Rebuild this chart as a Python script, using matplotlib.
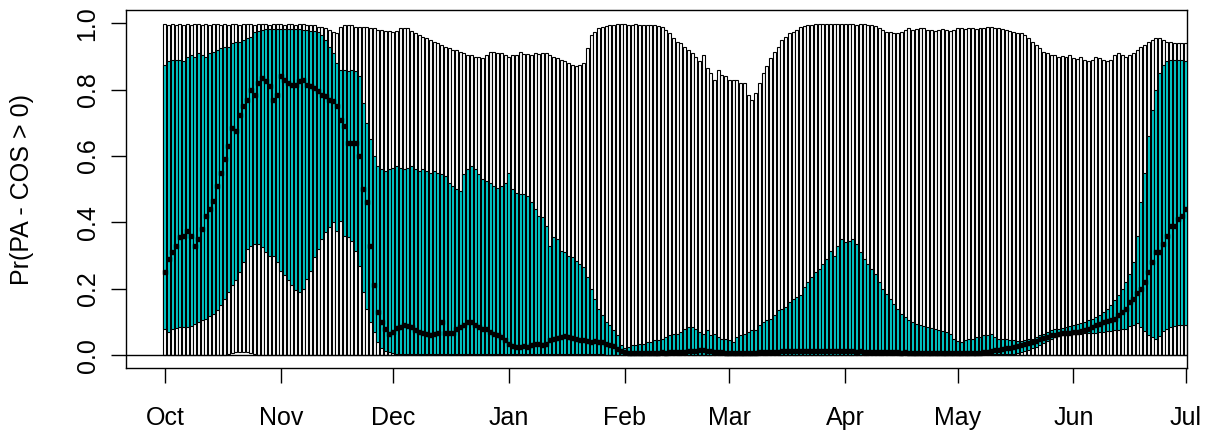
import matplotlib
matplotlib.use("Agg")
import matplotlib.pyplot as plt
import numpy as np
import pandas as pd

plt.rcParams['font.family'] = ['Liberation Sans', 'DejaVu Sans']

# one bar per day, 1 Oct to 1 Jul
dates = pd.date_range('2018-10-01', '2019-07-01', freq='D')
month_starts = pd.date_range('2018-10-01', '2019-07-01', freq='MS')
month_labels = ['Oct', 'Nov', 'Dec', 'Jan', 'Feb', 'Mar', 'Apr', 'May', 'Jun', 'Jul']

# upper end of the outer (white) bar
hi = [
    0.997, 0.995, 0.997, 0.996, 0.998, 0.995, 0.997, 0.996, 0.997, 0.998,
    0.996, 0.997, 0.995, 0.997, 0.998, 0.996, 0.997, 0.995, 0.997, 0.998,
    0.996, 0.997, 0.998, 0.997, 0.996, 0.998, 0.997, 0.998, 0.996, 0.997,
    0.998, 0.997, 0.996, 0.998, 0.997, 0.996, 0.998, 0.997, 0.995, 0.996,
    0.994,
    0.99, 0.99, 0.985, 0.98, 0.975, 0.97, 0.99, 0.995, 0.995, 0.995,
    0.99, 0.99, 0.99, 0.99, 0.985, 0.985, 0.98, 0.98, 0.978, 0.976,
    0.975, 0.978, 0.985, 0.987, 0.985, 0.976, 0.97, 0.965, 0.96, 0.955,
    0.95, 0.945, 0.94, 0.935, 0.93, 0.925, 0.92, 0.92, 0.915, 0.91,
    0.905, 0.905, 0.9, 0.9, 0.895, 0.905, 0.913, 0.913, 0.91, 0.91,
    0.905, 0.9, 0.905, 0.905, 0.913, 0.908, 0.908, 0.905, 0.91, 0.908,
    0.91, 0.91, 0.905, 0.9, 0.895, 0.89, 0.885, 0.88, 0.875, 0.87,
    0.875, 0.88, 0.925, 0.965, 0.975, 0.985, 0.99, 0.992, 0.995, 0.996,
    0.997, 0.998, 0.997, 0.996, 0.996, 0.997, 0.996, 0.995, 0.996, 0.995,
    0.994, 0.992, 0.99, 0.98, 0.97, 0.955, 0.945, 0.94, 0.93, 0.92,
    0.91, 0.9, 0.885, 0.905, 0.865, 0.85, 0.83, 0.86, 0.845, 0.84,
    0.83, 0.83, 0.83, 0.82, 0.82, 0.785, 0.77, 0.79, 0.82, 0.85,
    0.87, 0.895, 0.915, 0.93, 0.95, 0.96, 0.97, 0.975, 0.98, 0.99,
    0.993, 0.995, 0.996, 0.997, 0.997, 0.998, 0.997, 0.997, 0.998, 0.997,
    0.997, 0.998, 0.997, 0.997, 0.996, 0.997, 0.997, 0.996, 0.995, 0.993,
    0.985, 0.98, 0.975, 0.975, 0.972, 0.972, 0.975, 0.98, 0.985, 0.98,
    0.983, 0.985, 0.985, 0.98, 0.98, 0.978, 0.98, 0.982, 0.98, 0.978,
    0.98, 0.985, 0.987, 0.984, 0.986, 0.985, 0.983, 0.987, 0.985, 0.988,
    0.99, 0.986, 0.985, 0.984, 0.98, 0.978, 0.975, 0.972, 0.97, 0.965,
    0.955, 0.945, 0.935, 0.925, 0.915, 0.91, 0.905, 0.905, 0.9, 0.903,
    0.9, 0.905, 0.895, 0.893, 0.9, 0.89, 0.885, 0.89, 0.9, 0.895,
    0.89, 0.885, 0.89, 0.905, 0.91, 0.905, 0.9, 0.905, 0.91, 0.92,
    0.93, 0.935, 0.945, 0.95, 0.955, 0.955, 0.95, 0.945, 0.945, 0.94,
    0.94, 0.94, 0.94,
]

# upper end of the teal bar
q3 = [
    0.874, 0.885, 0.888, 0.89, 0.888, 0.885, 0.9, 0.905, 0.9, 0.91,
    0.905, 0.9, 0.91, 0.915, 0.92, 0.925, 0.93, 0.93, 0.94, 0.945,
    0.945, 0.95, 0.955, 0.96, 0.975, 0.978, 0.98, 0.982, 0.983, 0.983,
    0.984, 0.984, 0.983, 0.984, 0.983, 0.983, 0.982, 0.98, 0.98, 0.978,
    0.976, 0.975, 0.965, 0.95, 0.93, 0.91, 0.88, 0.86, 0.86, 0.855,
    0.86, 0.855, 0.84, 0.76, 0.7, 0.65, 0.6, 0.57, 0.56, 0.555,
    0.56, 0.565, 0.57, 0.565, 0.56, 0.565, 0.57, 0.56, 0.555, 0.56,
    0.555, 0.55, 0.555, 0.55, 0.545, 0.54, 0.52, 0.51, 0.5, 0.495,
    0.545, 0.56, 0.57, 0.56, 0.545, 0.53, 0.525, 0.52, 0.51, 0.505,
    0.51, 0.52, 0.55, 0.5, 0.49, 0.485, 0.485, 0.48, 0.46, 0.44,
    0.42, 0.415, 0.39, 0.33, 0.355, 0.35, 0.315, 0.31, 0.3, 0.295,
    0.285, 0.275, 0.265, 0.235, 0.2, 0.17, 0.14, 0.12, 0.1, 0.09,
    0.075, 0.06, 0.03, 0.02, 0.025, 0.03, 0.03, 0.035, 0.035, 0.04,
    0.04, 0.045, 0.045, 0.05, 0.055, 0.06, 0.065, 0.065, 0.07, 0.08,
    0.085, 0.085, 0.08, 0.07, 0.065, 0.075, 0.06, 0.065, 0.055, 0.05,
    0.05, 0.045, 0.04, 0.055, 0.06, 0.065, 0.07, 0.075, 0.075, 0.09,
    0.1, 0.105, 0.11, 0.12, 0.135, 0.14, 0.145, 0.16, 0.17, 0.175,
    0.18, 0.205, 0.22, 0.235, 0.25, 0.26, 0.275, 0.29, 0.315, 0.3,
    0.33, 0.35, 0.34, 0.345, 0.35, 0.335, 0.31, 0.29, 0.275, 0.26,
    0.245, 0.22, 0.2, 0.185, 0.17, 0.155, 0.14, 0.125, 0.115, 0.105,
    0.1, 0.095, 0.09, 0.088, 0.085, 0.082, 0.08, 0.075, 0.072, 0.07,
    0.065, 0.05, 0.042, 0.04, 0.045, 0.05, 0.05, 0.055, 0.055, 0.06,
    0.06, 0.065, 0.055, 0.05, 0.05, 0.048, 0.045, 0.045, 0.042, 0.042,
    0.045, 0.048, 0.05, 0.055, 0.06, 0.065, 0.07, 0.075, 0.078, 0.08,
    0.082, 0.085, 0.088, 0.09, 0.093, 0.096, 0.1, 0.105, 0.11, 0.115,
    0.12, 0.13, 0.14, 0.15, 0.165, 0.18, 0.2, 0.22, 0.245, 0.28,
    0.36, 0.46, 0.55, 0.66, 0.74, 0.8, 0.85, 0.875, 0.885, 0.89,
    0.89, 0.89, 0.89, 0.885,
]

# median (black points)
med = [
    0.25, 0.29, 0.31, 0.33, 0.355, 0.36, 0.375, 0.36, 0.33, 0.35,
    0.38, 0.42, 0.44, 0.465, 0.51, 0.55, 0.59, 0.63, 0.685, 0.675,
    0.725, 0.75, 0.77, 0.8, 0.785, 0.82, 0.835, 0.825, 0.81, 0.77,
    0.785, 0.84, 0.83, 0.82, 0.815, 0.815, 0.825, 0.83, 0.815, 0.81,
    0.805, 0.795, 0.785, 0.78, 0.77, 0.765, 0.75, 0.71, 0.69, 0.64,
    0.64, 0.64, 0.6, 0.5, 0.46, 0.33, 0.21, 0.13, 0.1, 0.08,
    0.064, 0.07, 0.083, 0.085, 0.09, 0.088, 0.085, 0.075, 0.07, 0.068,
    0.064, 0.062, 0.064, 0.066, 0.1, 0.068, 0.066, 0.068, 0.08, 0.085,
    0.09, 0.1, 0.1, 0.09, 0.085, 0.08, 0.078, 0.07, 0.065, 0.06,
    0.055, 0.045, 0.035, 0.028, 0.025, 0.025, 0.028, 0.025, 0.03, 0.035,
    0.033, 0.032, 0.035, 0.045, 0.05, 0.052, 0.055, 0.058, 0.055, 0.053,
    0.048, 0.045, 0.045, 0.042, 0.04, 0.042, 0.04, 0.04, 0.035, 0.03,
    0.028, 0.018, 0.012, 0.008, 0.006, 0.005, 0.005, 0.006, 0.005, 0.006,
    0.007, 0.006, 0.007, 0.008, 0.007, 0.008, 0.009, 0.008, 0.009, 0.01,
    0.011, 0.012, 0.013, 0.014, 0.015, 0.013, 0.012, 0.01, 0.009, 0.008,
    0.007, 0.007, 0.006, 0.006, 0.007, 0.006, 0.005, 0.006, 0.007, 0.008,
    0.008, 0.009, 0.009, 0.01, 0.01, 0.011, 0.011, 0.012, 0.012, 0.012,
    0.013, 0.012, 0.013, 0.012, 0.013, 0.012, 0.013, 0.012, 0.012, 0.011,
    0.012, 0.011, 0.011, 0.012, 0.011, 0.01, 0.011, 0.01, 0.01, 0.009,
    0.009, 0.01, 0.009, 0.009, 0.008, 0.008, 0.008, 0.007, 0.008, 0.007,
    0.007, 0.007, 0.006, 0.006, 0.006, 0.006, 0.006, 0.005, 0.006, 0.005,
    0.005, 0.005, 0.005, 0.006, 0.005, 0.006, 0.006, 0.007, 0.007, 0.008,
    0.01, 0.012, 0.014, 0.016, 0.018, 0.02, 0.022, 0.025, 0.028, 0.03,
    0.033, 0.036, 0.04, 0.044, 0.048, 0.052, 0.056, 0.06, 0.062, 0.064,
    0.066, 0.067, 0.068, 0.069, 0.07, 0.072, 0.075, 0.08, 0.085, 0.09,
    0.095, 0.1, 0.103, 0.107, 0.11, 0.12, 0.13, 0.14, 0.16, 0.17,
    0.186, 0.2, 0.22, 0.25, 0.28, 0.31, 0.31, 0.335, 0.36, 0.39,
    0.39, 0.41, 0.42, 0.44,
]

# lower end of the teal bar
q1 = [
    0.078, 0.07, 0.078, 0.082, 0.084, 0.084, 0.085, 0.088, 0.095, 0.1,
    0.105, 0.11, 0.118, 0.125, 0.135, 0.15, 0.17, 0.19, 0.21, 0.225,
    0.25, 0.28, 0.32, 0.33, 0.335, 0.335, 0.325, 0.31, 0.3, 0.3,
    0.28, 0.255, 0.24, 0.225, 0.21, 0.195, 0.19, 0.2, 0.23, 0.255,
    0.295, 0.32, 0.35, 0.37, 0.385, 0.4, 0.375, 0.405, 0.36, 0.355,
    0.345, 0.315, 0.27, 0.19, 0.14, 0.1, 0.07, 0.04, 0.022, 0.013,
    0.008, 0.005, 0.004, 0.003, 0.003, 0.002, 0.002, 0.002, 0.002, 0.002,
    0.002, 0.002, 0.003, 0.002, 0.002, 0.002, 0.003, 0.002, 0.002, 0.002,
    0.002, 0.002, 0.002, 0.003, 0.002, 0.002, 0.002, 0.002, 0.002, 0.002,
    0.002, 0.002, 0.002, 0.002, 0.002, 0.002, 0.002, 0.002, 0.002, 0.002,
    0.002, 0.002, 0.002, 0.002, 0.002, 0.002, 0.002, 0.002, 0.002, 0.002,
    0.002, 0.002, 0.002, 0.002, 0.002, 0.002, 0.002, 0.002, 0.001, 0.001,
    0.001, 0.001, 0.001, 0.001, 0.001, 0.001, 0.001, 0.001, 0.001, 0.001,
    0.001, 0.001, 0.001, 0.001, 0.001, 0.001, 0.001, 0.001, 0.001, 0.001,
    0.001, 0.001, 0.001, 0.001, 0.001, 0.001, 0.001, 0.001, 0.001, 0.001,
    0.001, 0.001, 0.001, 0.001, 0.001, 0.001, 0.001, 0.001, 0.001, 0.001,
    0.001, 0.001, 0.001, 0.001, 0.001, 0.001, 0.001, 0.001, 0.001, 0.001,
    0.001, 0.001, 0.001, 0.001, 0.001, 0.001, 0.001, 0.001, 0.001, 0.001,
    0.001, 0.001, 0.001, 0.001, 0.001, 0.001, 0.001, 0.001, 0.001, 0.001,
    0.001, 0.001, 0.001, 0.001, 0.001, 0.001, 0.001, 0.001, 0.001, 0.001,
    0.001, 0.001, 0.001, 0.001, 0.001, 0.001, 0.001, 0.001, 0.001, 0.001,
    0.001, 0.001, 0.001, 0.001, 0.001, 0.001, 0.002, 0.002, 0.002, 0.002,
    0.002, 0.002, 0.002, 0.002, 0.002, 0.002, 0.002,
    0.003, 0.005, 0.008, 0.012, 0.016, 0.02, 0.025, 0.03, 0.036, 0.042,
    0.048, 0.054, 0.058, 0.06, 0.062,
    0.063, 0.064, 0.065, 0.065, 0.066, 0.066, 0.067, 0.068, 0.07, 0.07,
    0.072, 0.073, 0.075, 0.076, 0.078, 0.08,
    0.087, 0.092, 0.096, 0.085, 0.072, 0.062, 0.055, 0.05, 0.058, 0.072,
    0.08, 0.085, 0.088, 0.09, 0.09, 0.09,
]

# lower end of the outer bar: sits on zero apart from a few days in October
lo = np.zeros(len(dates))
lo[17:25] = [0.004, 0.007, 0.009, 0.01, 0.01, 0.008, 0.006, 0.004]

for name, arr in [('hi', hi), ('q3', q3), ('med', med), ('q1', q1)]:
    assert len(arr) == len(dates), (name, len(arr))

hi = np.array(hi)
q3 = np.array(q3)
med = np.array(med)
q1 = np.array(q1)
days = np.arange(len(dates))
tick_pos = [(d - dates[0]).days for d in month_starts]

fig = plt.figure(figsize=(12.11, 4.37), dpi=100)
ax = fig.add_axes([0.104, 0.157, 0.876, 0.82])

ax.bar(days, hi - lo, bottom=lo, width=0.8, color='white',
       edgecolor='black', linewidth=0.8, zorder=2)
ax.bar(days, q3 - q1, bottom=q1, width=0.8, color='#00CDCD',
       edgecolor='black', linewidth=0.8, zorder=3)
ax.plot(days, med, 's', color='black', markersize=2.6, zorder=4)
ax.axhline(0, color='black', linewidth=1.0, zorder=5)

ax.set_xlim(-10.4, 273.3)
ax.set_ylim(-0.04, 1.04)

ax.set_xticks(tick_pos)
ax.set_xticklabels(month_labels, fontsize=18)
ax.set_yticks([0.0, 0.2, 0.4, 0.6, 0.8, 1.0])
ax.set_yticklabels(['0.0', '0.2', '0.4', '0.6', '0.8', '1.0'],
                   fontsize=18, rotation=90, va='center')
ax.tick_params(axis='x', length=11, width=1, pad=16)
ax.tick_params(axis='y', length=11, width=1, pad=8)
ax.set_ylabel('Pr(PA - COS > 0)', fontsize=18, labelpad=30)

for s in ax.spines.values():
    s.set_linewidth(1)

fig.savefig('out.png', dpi=100)
